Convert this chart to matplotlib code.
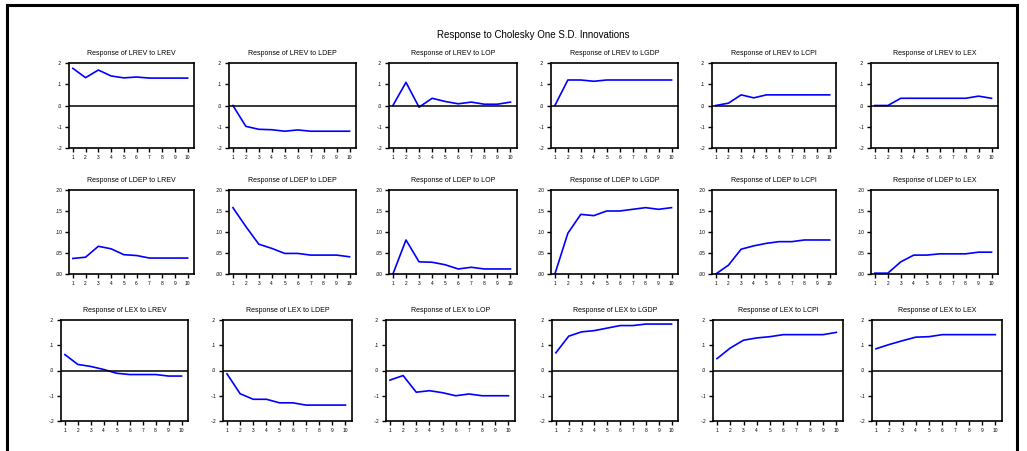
import matplotlib
matplotlib.use("Agg")
import matplotlib.pyplot as plt
from matplotlib.lines import Line2D

plt.rcParams["font.family"] = ["Liberation Sans", "DejaVu Sans"]

periods = [1, 2, 3, 4, 5, 6, 7, 8, 9, 10]
shocks = ["LREV", "LDEP", "LOP", "LGDP", "LCPI", "LEX"]
responders = ["LREV", "LDEP", "LEX"]

# response of LREV
lrev_to = {
    "LREV": [0.175, 0.131, 0.167, 0.139, 0.130, 0.134, 0.129, 0.129, 0.129, 0.129],
    "LDEP": [0.0, -0.098, -0.112, -0.114, -0.121, -0.115, -0.121, -0.121, -0.121, -0.121],
    "LOP": [0.0, 0.109, -0.008, 0.034, 0.019, 0.008, 0.016, 0.006, 0.006, 0.016],
    "LGDP": [0.0, 0.120, 0.120, 0.114, 0.120, 0.120, 0.120, 0.120, 0.120, 0.120],
    "LCPI": [0.0, 0.011, 0.050, 0.036, 0.050, 0.050, 0.050, 0.050, 0.050, 0.050],
    "LEX": [0.0, 0.0, 0.034, 0.034, 0.034, 0.034, 0.034, 0.034, 0.044, 0.034],
}
# response of LDEP
ldep_to = {
    "LREV": [0.037, 0.040, 0.066, 0.060, 0.046, 0.044, 0.038, 0.038, 0.038, 0.038],
    "LDEP": [0.158, 0.113, 0.071, 0.061, 0.049, 0.049, 0.045, 0.045, 0.045, 0.041],
    "LOP": [0.0, 0.081, 0.029, 0.028, 0.022, 0.012, 0.016, 0.012, 0.012, 0.012],
    "LGDP": [0.0, 0.097, 0.142, 0.139, 0.150, 0.150, 0.154, 0.158, 0.154, 0.158],
    "LCPI": [0.0, 0.021, 0.059, 0.067, 0.073, 0.077, 0.077, 0.081, 0.081, 0.081],
    "LEX": [0.002, 0.002, 0.029, 0.045, 0.045, 0.048, 0.048, 0.048, 0.052, 0.052],
}
# response of LEX
lex_to = {
    "LREV": [0.063, 0.024, 0.016, 0.004, -0.011, -0.016, -0.016, -0.016, -0.022, -0.022],
    "LDEP": [-0.013, -0.092, -0.114, -0.114, -0.128, -0.128, -0.137, -0.137, -0.137, -0.137],
    "LOP": [-0.038, -0.020, -0.086, -0.080, -0.088, -0.100, -0.093, -0.100, -0.100, -0.100],
    "LGDP": [0.070, 0.136, 0.153, 0.158, 0.168, 0.178, 0.178, 0.184, 0.184, 0.184],
    "LCPI": [0.047, 0.089, 0.120, 0.129, 0.134, 0.142, 0.142, 0.142, 0.142, 0.151],
    "LEX": [0.086, 0.103, 0.118, 0.132, 0.134, 0.142, 0.142, 0.142, 0.142, 0.142],
}
responses = [lrev_to, ldep_to, lex_to]

sym_ticks = [0.2, 0.1, 0.0, -0.1, -0.2]
sym_labels = [".2", ".1", ".0", "-.1", "-.2"]
pos_ticks = [0.20, 0.15, 0.10, 0.05, 0.0]
pos_labels = [".20", ".15", ".10", ".05", ".00"]

W, H = 1027, 451
fig = plt.figure(figsize=(W / 100, H / 100), dpi=100)

# pixel boxes of the panels: (left, right) per column, (top, bottom) per row
cols_top = [(69, 194), (229, 356), (389, 517), (551, 678), (712, 836), (871, 998)]
cols_bottom = [(61, 188), (223, 352), (386, 515), (552, 678), (713, 843), (872, 1002)]
rows = [(63, 148), (190, 274), (320, 421)]

for r, resp in enumerate(responders):
    top, bottom = rows[r]
    cols = cols_bottom if r == 2 else cols_top
    for c, shock in enumerate(shocks):
        left, right = cols[c]
        ax = fig.add_axes([left / W, 1 - bottom / H, (right - left) / W, (bottom - top) / H])
        ax.plot(periods, responses[r][shock], color="#0000ff", linewidth=1.2)
        if r == 1:
            ax.set_ylim(0, 0.2)
            ax.set_yticks(pos_ticks)
            ax.set_yticklabels(pos_labels)
        else:
            ax.set_ylim(-0.2, 0.2)
            ax.set_yticks(sym_ticks)
            ax.set_yticklabels(sym_labels)
            ax.axhline(0, color="black", linewidth=1.1)
        ax.set_xlim(0.7, 10.5)
        ax.set_xticks(periods)
        ax.tick_params(direction="out", length=3, width=1, labelsize=3.5, pad=2)
        for s in ax.spines.values():
            s.set_linewidth(1.2)
        ax.set_title(f"Response of {resp} to {shock}", fontsize=5, pad=6)

fig.text(533 / W, 1 - 35 / H, "Response to Cholesky One S.D. Innovations",
         ha="center", va="center", fontsize=7)

# frame around the output
fig.add_artist(Line2D([7 / W, 1017 / W], [1 - 5 / H, 1 - 5 / H], color="black", linewidth=2.2))
fig.add_artist(Line2D([7 / W, 7 / W], [0, 1 - 5 / H], color="black", linewidth=2.2))
fig.add_artist(Line2D([1017 / W, 1017 / W], [0, 1 - 5 / H], color="black", linewidth=2.2))

fig.savefig("out.png", dpi=100)
